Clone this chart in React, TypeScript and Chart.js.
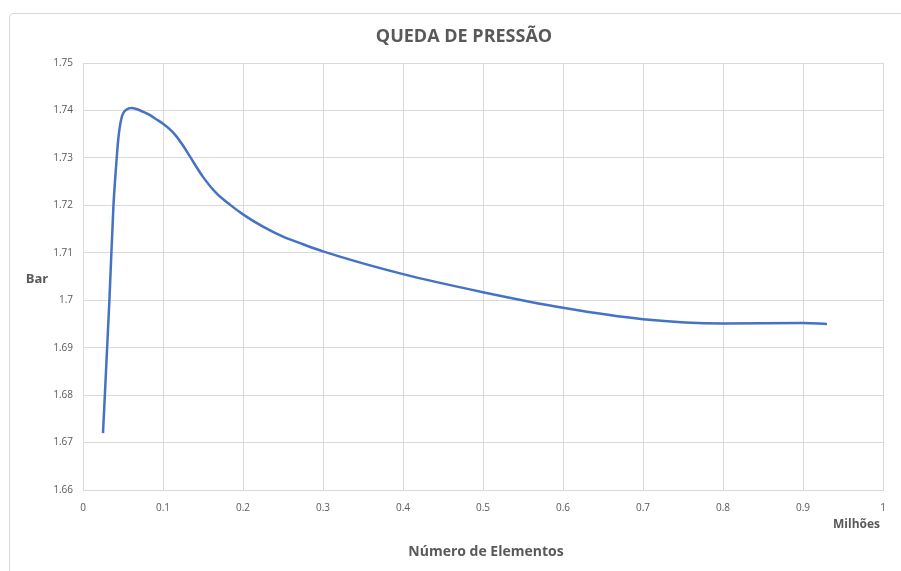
import { useEffect, useRef } from "react";
import { Chart, registerables } from "chart.js";

Chart.register(...registerables);

// Number of elements (millions)
const elementCounts = [0.025, 0.033, 0.038, 0.041, 0.044, 0.048, 0.0546, 0.061, 0.0754, 0.0838, 0.092, 0.1, 0.108, 0.116, 0.125, 0.134, 0.15, 0.167, 0.184, 0.2, 0.225, 0.25, 0.275, 0.3, 0.4, 0.5, 0.6, 0.7, 0.8, 0.9, 0.93];
// Pressure drop (bar)
const pressureBar = [1.672, 1.7, 1.7197, 1.7274, 1.7338, 1.7383, 1.7402, 1.7405, 1.7397, 1.739, 1.7381, 1.7372, 1.7361, 1.7347, 1.7326, 1.7302, 1.726, 1.7225, 1.7201, 1.7181, 1.7155, 1.7134, 1.7118, 1.7103, 1.7055, 1.7017, 1.6984, 1.696, 1.6951, 1.6952, 1.695];

const xTickValues = [0, 0.1, 0.2, 0.3, 0.4, 0.5, 0.6, 0.7, 0.8, 0.9, 1];
const yTickValues = [1.66, 1.67, 1.68, 1.69, 1.7, 1.71, 1.72, 1.73, 1.74, 1.75];

const chartTitle = "QUEDA DE PRESSÃO";
const yAxisTitle = "Bar";
const xAxisTitle = "Número de Elementos";
const xAxisUnit = "Milhões";

const TEXT = "#595959";
const GRID = "#d9d9d9";
const FONT = "'Open Sans', 'Liberation Sans', sans-serif";

const fmt = (v: number) => String(Number(v.toFixed(2)));

export default function App() {
  const canvasRef = useRef<HTMLCanvasElement | null>(null);

  useEffect(() => {
    if (!canvasRef.current) return;
    const textPlugin = {
      id: "excelTexts",
      afterDraw(chart: any) {
        const ctx = chart.ctx as CanvasRenderingContext2D;
        const area = chart.chartArea;
        ctx.save();
        ctx.fillStyle = TEXT;
        ctx.textBaseline = "middle";
        ctx.textAlign = "center";
        ctx.font = `bold 18px ${FONT}`;
        ctx.fillText(chartTitle, 464, 37);
        ctx.font = `bold 13px ${FONT}`;
        ctx.fillText(yAxisTitle, 37, 279);
        ctx.font = `bold 14px ${FONT}`;
        ctx.fillText(xAxisTitle, (area.left + area.right) / 2 + 3, 552);
        ctx.textAlign = "right";
        ctx.font = `bold 12px ${FONT}`;
        ctx.fillText(xAxisUnit, 880, 525);
        ctx.restore();
      },
    };

    const chart = new Chart(canvasRef.current, {
      type: "line",
      data: {
        datasets: [
          {
            data: elementCounts.map((x, i) => ({ x, y: pressureBar[i] })),
            borderColor: "#4472C4",
            borderWidth: 2.5,
            pointRadius: 0,
            fill: false,
            cubicInterpolationMode: "monotone",
          },
        ],
      },
      options: {
        responsive: false,
        animation: false,
        layout: { padding: { top: 63, right: 18, left: 0, bottom: 0 } },
        plugins: {
          legend: { display: false },
          tooltip: { enabled: false },
          title: { display: false },
        },
        scales: {
          x: {
            type: "linear",
            min: 0,
            max: 1,
            afterBuildTicks: (scale: any) => {
              scale.ticks = xTickValues.map((value) => ({ value }));
            },
            afterFit: (scale: any) => {
              scale.height = 81;
            },
            grid: { color: GRID, drawTicks: false, lineWidth: 1 },
            border: { color: GRID },
            ticks: {
              padding: 12,
              color: TEXT,
              font: { family: FONT, size: 10 },
              maxRotation: 0,
              callback: (v: any) => fmt(Number(v)),
            },
          },
          y: {
            type: "linear",
            min: 1.66,
            max: 1.75,
            afterBuildTicks: (scale: any) => {
              scale.ticks = yTickValues.map((value) => ({ value }));
            },
            afterFit: (scale: any) => {
              scale.width = 83;
            },
            grid: { color: GRID, drawTicks: false, lineWidth: 1 },
            border: { color: GRID },
            ticks: {
              padding: 10,
              color: TEXT,
              font: { family: FONT, size: 10 },
              callback: (v: any) => fmt(Number(v)),
            },
          },
        },
      },
      plugins: [textPlugin],
    } as any);
    return () => chart.destroy();
  }, []);

  return (
    <div style={{ position: "absolute", left: 0, top: 0, width: 901, height: 571, overflow: "hidden", background: "#fff" }}>
      <div
        style={{
          position: "absolute",
          left: 9,
          top: 13,
          width: 910,
          height: 580,
          border: `1px solid ${GRID}`,
          borderRadius: 4,
        }}
      />
      <canvas ref={canvasRef} width={901} height={571} style={{ position: "absolute", left: 0, top: 0 }} />
    </div>
  );
}
